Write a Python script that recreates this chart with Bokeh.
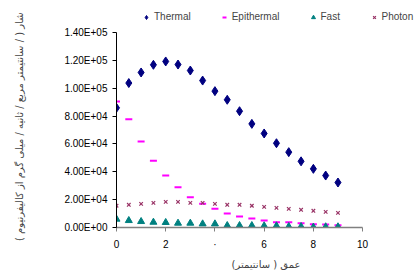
from bokeh.plotting import figure
from bokeh.models import FixedTicker, Legend, LegendItem, Range1d
from bokeh.embed import file_html
from bokeh.resources import INLINE

depth = [0, 0.5, 1, 1.5, 2, 2.5, 3, 3.5, 4, 4.5, 5, 5.5, 6, 6.5, 7, 7.5, 8, 8.5, 9]
thermal = [85900, 103700, 111300, 116800, 119200, 117000, 112700, 105500, 97900, 91700,
           83500, 74400, 67500, 60500, 54100, 47500, 42100, 37300, 32300]
epithermal = [90500, 77800, 61700, 48000, 37300, 28900, 21800, 17000, 13400, 10000,
              7900, 6500, 5000, 3800, 3800, 3100, 2400, 2200, 1700]
fast = [6000, 5000, 4300, 3800, 3600, 3100, 3100, 2600, 2600, 1400,
        1400, 1400, 1200, 1200, 700, 700, 300, 500, 500]
photon = [15600, 16300, 17000, 17700, 18400, 18400, 17700, 17700, 17000, 16300,
          16300, 15600, 14800, 14100, 13400, 12700, 12000, 11200, 10500]

y_ticks = [0, 20000, 40000, 60000, 80000, 100000, 120000, 140000]
y_labels = ["0.00E+00", "2.00E+04", "4.00E+04", "6.00E+04", "8.00E+04",
            "1.00E+05", "1.20E+05", "1.40E+05"]
x_ticks = [0, 2, 4, 6, 8, 10]
x_labels = ["0", "2", "·", "6", "8", "10"]
y_title = "شار ( / سانتیمتر مربع / ثانیه / میلی گرم از کالیفرنیوم )"
x_title = "عمق ( سانتیمتر)"

FONT = "Liberation Sans"

p = figure(width=415, height=273, output_backend="svg", toolbar_location=None,
           x_range=Range1d(0, 12.15), y_range=Range1d(0, 162970),
           min_border_left=116, min_border_right=0, min_border_top=0, min_border_bottom=46)
p.outline_line_color = None
p.xgrid.visible = False
p.ygrid.visible = False

r1 = p.scatter(depth, thermal, marker="diamond", size=9, color="#000080")
r2 = p.scatter(depth, epithermal, marker="dash", size=7, line_color="#FF00FF", line_width=2)
r3 = p.scatter(depth, fast, marker="triangle", size=7, color="#008080")
r4 = p.scatter(depth, photon, marker="x", size=5, line_color="#993366", line_width=1.2)

xa = p.xaxis[0]
xa.ticker = FixedTicker(ticks=x_ticks)
xa.major_label_overrides = {t: l for t, l in zip(x_ticks, x_labels)}
xa.bounds = (0, 10)
xa.minor_tick_line_color = None
xa.major_tick_in = 0
xa.major_tick_out = 4
xa.axis_line_color = "#808080"
xa.axis_line_width = 1.5
xa.major_tick_line_color = "#808080"
xa.major_label_text_font = FONT
xa.major_label_text_font_size = "10px"
xa.major_label_text_color = "black"
xa.major_label_standoff = 7
xa.axis_label = x_title
xa.axis_label_text_font = "DejaVu Sans"
xa.axis_label_text_font_style = "normal"
xa.axis_label_text_font_size = "10px"
xa.axis_label_standoff = 6

ya = p.yaxis[0]
ya.ticker = FixedTicker(ticks=y_ticks)
ya.major_label_overrides = {t: l for t, l in zip(y_ticks, y_labels)}
ya.bounds = (0, 140000)
ya.minor_tick_line_color = None
ya.major_tick_in = 0
ya.major_tick_out = 4
ya.axis_line_color = "black"
ya.major_tick_line_color = "black"
ya.major_label_text_font = FONT
ya.major_label_text_font_size = "10px"
ya.major_label_text_color = "black"
ya.axis_label = y_title + "\u00a0" * 8
ya.axis_label_text_font = "DejaVu Sans"
ya.axis_label_text_font_style = "normal"
ya.axis_label_text_font_size = "10px"
ya.axis_label_standoff = 36

legend = Legend(items=[LegendItem(label="Thermal", renderers=[r1]),
                       LegendItem(label="Epithermal", renderers=[r2]),
                       LegendItem(label="Fast", renderers=[r3]),
                       LegendItem(label="Photon", renderers=[r4])],
                orientation="horizontal", location=(25, 205),
                spacing=28, padding=0, margin=0, glyph_width=10, glyph_height=10,
                label_standoff=3, label_height=10,
                label_text_font=FONT, label_text_font_size="10px",
                border_line_color=None, background_fill_alpha=0)
p.add_layout(legend, "center")

open("out.html", "w").write(file_html(p, INLINE))
